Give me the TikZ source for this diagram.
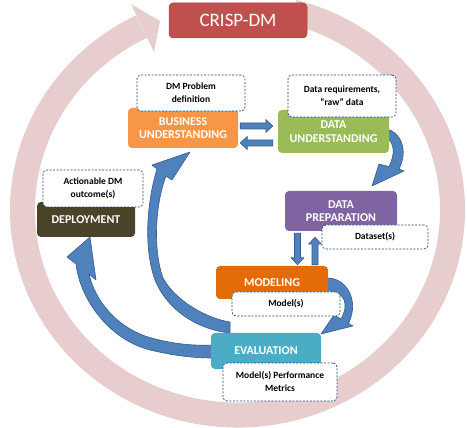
\documentclass[tikz,border=0pt]{standalone}
\usepackage{fontspec}
\setmainfont{Carlito}
\usetikzlibrary{calc}
\definecolor{ringc}{RGB}{231,205,206}
\definecolor{crisp}{RGB}{192,80,77}
\definecolor{buc}{RGB}{247,150,70}
\definecolor{duc}{RGB}{155,187,89}
\definecolor{dpc}{RGB}{128,100,162}
\definecolor{modc}{RGB}{227,108,9}
\definecolor{evc}{RGB}{75,172,198}
\definecolor{depc}{RGB}{73,68,41}
\definecolor{arrfill}{RGB}{79,129,189}
\definecolor{arrdraw}{RGB}{56,93,138}
\definecolor{calloutc}{RGB}{31,73,125}
\tikzset{
 stage/.style={rounded corners=4pt, text=white, font=\fontsize{12}{13.5}\selectfont\bfseries, align=center, inner sep=1pt},
 callout/.style={draw=calloutc, line width=0.7pt, dash pattern=on 2pt off 1.5pt, fill=white, rounded corners=4pt, font=\fontsize{9.5}{13}\selectfont\bfseries, align=center, inner sep=1pt},
 carrow/.style={fill=arrfill, draw=arrdraw, line width=0.6pt, line join=round},
}
\newcommand\blockarr[2]{%
 \path (#1) coordinate (ba1) (#2) coordinate (ba2);
 \path ($(ba2)!7pt!(ba1)$) coordinate (bah);
 \filldraw[carrow] ($(ba1)!3pt!90:(ba2)$) -- ($(bah)!3pt!90:(ba2)$) -- ($(bah)!6.5pt!90:(ba2)$) -- (ba2) -- ($(bah)!6.5pt!-90:(ba2)$) -- ($(bah)!3pt!-90:(ba2)$) -- ($(ba1)!3pt!-90:(ba2)$) -- cycle;}
\begin{document}
\begin{tikzpicture}[x=1pt,y=-1pt]
\useasboundingbox (0,0) rectangle (467,428);
\fill[white] (0,0) rectangle (467,428);
% outer cycle ring
\draw[ringc, line width=25pt] (237.5,210) ++(-75:215 and 205) arc[start angle=-75, end angle=243.5, x radius=215, y radius=205];
\fill[ringc] (131,4) -- (160,21) -- (154,52) -- cycle;
% curved arrows
\filldraw[carrow] (230,333) .. controls (200,330) and (168,312) .. (155,280) .. controls (144,250) and (146,205) .. (157,169) -- (152,165) -- (190,152) -- (172,180) -- (166,176) .. controls (155,205) and (153,250) .. (163,278) .. controls (175,300) and (205,318) .. (230,322) -- cycle;
\filldraw[carrow] (212,358) .. controls (195,358) and (175,356) .. (150,350) .. controls (110,340) and (80,300) .. (76,264) -- (67,257) -- (90,237) -- (96,280) -- (89,274) .. controls (95,300) and (115,325) .. (145,336) .. controls (170,344) and (195,346) .. (212,345) -- cycle;
\filldraw[carrow] (386,129) .. controls (400,131) and (409,150) .. (399,169) -- (404,171) -- (372,186) -- (379,164) -- (389,166.5) .. controls (395,155) and (395,142) .. (386,138) -- cycle;
\filldraw[carrow] (326,278) .. controls (346,277) and (360,300) .. (348.5,323.5) -- (353,326) -- (321,334) -- (334,315) -- (341,319) .. controls (349,305) and (346,291) .. (326,291) -- cycle;
% stages
\node[stage, fill=crisp, draw=crisp!85!black, line width=0.5pt, font=\fontsize{19}{22}\selectfont, minimum width=138pt, minimum height=35pt] (CR) at (238,20.5) {CRISP-DM};
\node[stage, fill=buc, minimum width=110pt, minimum height=40pt] (BU) at (183,128) {BUSINESS\\UNDERSTANDING};
\node[stage, fill=duc, minimum width=111pt, minimum height=43pt] (DU) at (333.5,131.5) {DATA\\UNDERSTANDING};
\node[stage, fill=dpc, minimum width=112pt, minimum height=40pt] (DP) at (341,211) {DATA\\PREPARATION};
\node[stage, fill=modc, minimum width=112pt, minimum height=33pt] (MOD) at (272,282.5) {MODELING};
\node[stage, fill=evc, minimum width=110pt, minimum height=36pt] (EV) at (266,351) {EVALUATION};
\node[stage, fill=depc, minimum width=98pt, minimum height=35pt] (DEP) at (86,219.5) {DEPLOYMENT};
% callouts
\node[callout, minimum width=108pt, minimum height=36pt] (C1) at (191,93) {DM Problem\\definition};
\node[callout, minimum width=108pt, minimum height=42pt] (C2) at (342,96) {Data requirements,\\“raw” data};
\node[callout, minimum width=106pt, minimum height=24pt] (C3) at (375,237) {Dataset(s)};
\node[callout, minimum width=108pt, minimum height=24pt] (C4) at (286,304) {Model(s)};
\node[callout, minimum width=114pt, minimum height=38pt] (C5) at (280,382) {Model(s) Performance\\Metrics};
\node[callout, minimum width=100pt, minimum height=37pt] (C6) at (93,188.5) {Actionable DM\\outcome(s)};
% block arrows
\blockarr{$(BU.east)+(2,-2)$}{$(DU.west|-BU.east)+(-5,-2)$}
\blockarr{$(DU.west|-BU.east)+(-5,15)$}{$(BU.east)+(2,15)$}
\blockarr{$(DP.south-|MOD.north)+(25.5,2)$}{$(MOD.north)+(25.5,-1)$}
\blockarr{$(MOD.north)+(43,-1)$}{$(DP.south-|MOD.north)+(43,6)$}
\end{tikzpicture}
\end{document}
